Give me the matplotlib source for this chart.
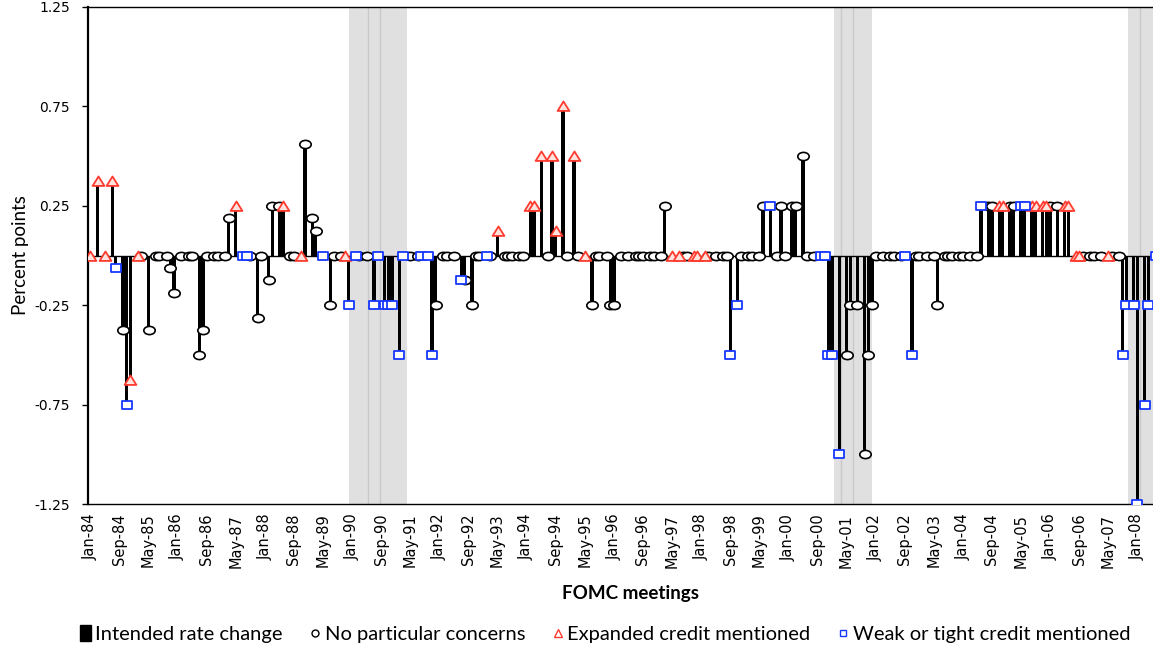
import numpy as np
import matplotlib
matplotlib.use("Agg")
import matplotlib.pyplot as plt
import matplotlib.path as mpath
from matplotlib.patches import Patch
from matplotlib.lines import Line2D

# FOMC meetings (one per month slot), intended rate change (pp) and credit concern
# concern codes: n = no particular concerns, e = expanded credit, w = weak/tight credit
meetings = [
    "1984-01", "1984-03", "1984-05", "1984-07", "1984-08", "1984-10", "1984-11", "1984-12",
    "1985-02", "1985-03", "1985-05", "1985-07", "1985-08", "1985-10", "1985-11", "1985-12",
    "1986-02", "1986-04", "1986-05", "1986-07", "1986-08", "1986-09", "1986-11", "1986-12",
    "1987-02", "1987-03", "1987-05", "1987-07", "1987-08", "1987-09", "1987-11", "1987-12",
    "1988-02", "1988-03", "1988-05", "1988-06", "1988-08", "1988-09", "1988-11", "1988-12",
    "1989-02", "1989-03", "1989-05", "1989-07", "1989-08", "1989-10", "1989-11", "1989-12",
    "1990-02", "1990-03", "1990-05", "1990-07", "1990-08", "1990-10", "1990-11", "1990-12",
    "1991-02", "1991-03", "1991-05", "1991-07", "1991-08", "1991-10", "1991-11", "1991-12",
    "1992-02", "1992-03", "1992-05", "1992-07", "1992-08", "1992-10", "1992-11", "1992-12",
    "1993-02", "1993-03", "1993-05", "1993-07", "1993-08", "1993-09", "1993-11", "1993-12",
    "1994-02", "1994-03", "1994-05", "1994-07", "1994-08", "1994-09", "1994-11", "1994-12",
    "1995-02", "1995-03", "1995-05", "1995-07", "1995-08", "1995-09", "1995-11", "1995-12",
    "1996-01", "1996-03", "1996-05", "1996-07", "1996-08", "1996-09", "1996-11", "1996-12",
    "1997-02", "1997-03", "1997-05", "1997-07", "1997-08", "1997-09", "1997-11", "1997-12",
    "1998-02", "1998-03", "1998-05", "1998-07", "1998-08", "1998-09", "1998-11", "1998-12",
    "1999-02", "1999-03", "1999-05", "1999-06", "1999-08", "1999-10", "1999-11", "1999-12",
    "2000-02", "2000-03", "2000-05", "2000-06", "2000-08", "2000-10", "2000-11", "2000-12",
    "2001-01", "2001-03", "2001-05", "2001-06", "2001-08", "2001-10", "2001-11", "2001-12",
    "2002-01", "2002-03", "2002-05", "2002-06", "2002-08", "2002-09", "2002-11", "2002-12",
    "2003-01", "2003-03", "2003-05", "2003-06", "2003-08", "2003-09", "2003-10", "2003-12",
    "2004-01", "2004-03", "2004-05", "2004-06", "2004-08", "2004-09", "2004-11", "2004-12",
    "2005-02", "2005-03", "2005-05", "2005-06", "2005-08", "2005-09", "2005-11", "2005-12",
    "2006-01", "2006-03", "2006-05", "2006-06", "2006-08", "2006-09", "2006-10", "2006-12",
    "2007-01", "2007-03", "2007-05", "2007-06", "2007-08", "2007-09", "2007-10", "2007-12",
    "2008-01", "2008-03", "2008-04", "2008-06",
]

change = [
    0, 0.375, 0, 0.375, -0.0625, -0.375, -0.75, -0.625,
    0, 0, -0.375, 0, 0, 0, -0.0625, -0.1875,
    0, 0, 0, -0.5, -0.375, 0, 0, 0,
    0, 0.1875, 0.25, 0, 0, 0, -0.3125, 0,
    -0.125, 0.25, 0.25, 0.25, 0, 0, 0, 0.5625,
    0.1875, 0.125, 0, -0.25, 0, 0, 0, -0.25,
    0, 0, 0, -0.25, 0, -0.25, -0.25, -0.25,
    -0.5, 0, 0, 0, 0, 0, -0.5, -0.25,
    0, 0, 0, -0.125, -0.125, -0.25, 0, 0,
    0, 0, 0.125, 0, 0, 0, 0, 0,
    0.25, 0.25, 0.5, 0, 0.5, 0.125, 0.75, 0,
    0.5, 0, 0, -0.25, 0, 0, 0, -0.25,
    -0.25, 0, 0, 0, 0, 0, 0, 0,
    0, 0.25, 0, 0, 0, 0, 0, 0,
    0, 0, 0, 0, 0, -0.5, -0.25, 0,
    0, 0, 0, 0.25, 0.25, 0, 0.25, 0,
    0.25, 0.25, 0.5, 0, 0, 0, 0, -0.5,
    -0.5, -1.0, -0.5, -0.25, -0.25, -1.0, -0.5, -0.25,
    0, 0, 0, 0, 0, 0, -0.5, 0,
    0, 0, 0, -0.25, 0, 0, 0, 0,
    0, 0, 0, 0.25, 0.25, 0.25, 0.25, 0.25,
    0.25, 0.25, 0.25, 0.25, 0.25, 0.25, 0.25, 0.25,
    0.25, 0.25, 0.25, 0.25, 0, 0, 0, 0,
    0, 0, 0, 0, 0, -0.5, -0.25, -0.25,
    -1.25, -0.75, -0.25, 0,
]

concern = [
    "e", "e", "e", "e", "w", "n", "w", "e",
    "e", "n", "n", "n", "n", "n", "n", "n",
    "n", "n", "n", "n", "n", "n", "n", "n",
    "n", "n", "e", "w", "w", "n", "n", "n",
    "n", "n", "n", "e", "n", "n", "e", "n",
    "n", "n", "w", "n", "n", "n", "e", "w",
    "w", "n", "n", "w", "w", "w", "w", "w",
    "w", "w", "n", "n", "w", "w", "w", "n",
    "n", "n", "n", "w", "n", "n", "n", "n",
    "w", "n", "e", "n", "n", "n", "n", "n",
    "e", "e", "e", "n", "e", "e", "e", "n",
    "e", "n", "e", "n", "n", "n", "n", "n",
    "n", "n", "n", "n", "n", "n", "n", "n",
    "n", "n", "e", "e", "n", "n", "e", "e",
    "e", "n", "n", "n", "n", "w", "w", "n",
    "n", "n", "n", "n", "w", "n", "n", "n",
    "n", "n", "n", "n", "n", "w", "w", "w",
    "w", "w", "n", "n", "n", "n", "n", "n",
    "n", "n", "n", "n", "n", "w", "w", "n",
    "n", "n", "n", "n", "n", "n", "n", "n",
    "n", "n", "n", "w", "n", "n", "e", "e",
    "n", "n", "w", "w", "e", "e", "e", "e",
    "n", "n", "e", "e", "e", "e", "n", "n",
    "n", "n", "e", "n", "n", "w", "w", "w",
    "w", "w", "w", "w",
]

# month slots of the recession shading and the faint dividers inside it
shade_start = [71.2, 204.6, 285.5]
shade_end = [87.0, 215.0, 300.0]
shade_lines = [76.4, 79.7, 206.5, 209.7, 288.7]

tick_labels = [
    "Jan-84", "Sep-84", "May-85", "Jan-86", "Sep-86", "May-87", "Jan-88", "Sep-88",
    "May-89", "Jan-90", "Sep-90", "May-91", "Jan-92", "Sep-92", "May-93", "Jan-94",
    "Sep-94", "May-95", "Jan-96", "Sep-96", "May-97", "Jan-98", "Sep-98", "May-99",
    "Jan-00", "Sep-00", "May-01", "Jan-02", "Sep-02", "May-03", "Jan-04", "Sep-04",
    "May-05", "Jan-06", "Sep-06", "May-07", "Jan-08",
]

# month index counted from Jan 1984
month = np.array([(int(s[:4]) - 1984) * 12 + int(s[5:]) - 1 for s in meetings])
change = np.array(change)
concern = np.array(concern)

# slightly flattened marker shapes
uc = mpath.Path.unit_circle()
ellipse = mpath.Path(uc.vertices * [1.0, 0.72], uc.codes)
rect = mpath.Path([(-1, -0.8), (1, -0.8), (1, 0.8), (-1, 0.8), (-1, -0.8)],
                  [1, 2, 2, 2, 79])
tri = mpath.Path([(-1, -0.75), (1, -0.75), (0, 0.85), (-1, -0.75)], [1, 2, 2, 79])

fig = plt.figure(figsize=(11.53, 6.46), dpi=100)
ax = fig.add_axes([88 / 1153, 142 / 646, 1065 / 1153, 497 / 646])

for a, b in zip(shade_start, shade_end):
    ax.axvspan(a, b, color="#e0e0e0", lw=0, zorder=0)
for x in shade_lines:
    ax.axvline(x, color="#c9c9c9", lw=1, zorder=0.5)

ax.bar(month, change, width=0.9, color="black", zorder=2)
ax.axhline(0, color="black", lw=1, zorder=1.5)

red = "#ff3b2f"
blue = "#1638ff"
m = concern == "n"
ax.plot(month[m], change[m], ls="none", marker=ellipse, ms=8.2, mfc="white",
        mec="black", mew=1.2, zorder=3)
m = concern == "e"
ax.plot(month[m], change[m], ls="none", marker=tri, ms=8.5, mfc="#ffe3dc",
        mec=red, mew=1.3, zorder=4)
m = concern == "w"
ax.plot(month[m], change[m], ls="none", marker=rect, ms=7.8, mfc="white",
        mec=blue, mew=1.3, zorder=5)

ax.set_xlim(-0.66, 292.3)
ax.set_ylim(-1.25, 1.25)
ax.set_xticks(np.arange(0, 289, 8))
ax.set_xticklabels(tick_labels, rotation=90, family=["Liberation Sans Narrow", "DejaVu Sans"],
                   fontsize=10.5)
ax.tick_params(axis="x", length=0, pad=7)
ax.set_yticks([-1.25, -0.75, -0.25, 0.25, 0.75, 1.25])
ax.set_yticklabels(["-1.25", "-0.75", "-0.25", "0.25", "0.75", "1.25"], fontsize=10)
ax.tick_params(axis="y", direction="out", length=4, width=1, pad=9)

ax.spines["right"].set_visible(False)
ax.spines["left"].set_linewidth(1.6)
ax.spines["top"].set_linewidth(1.0)
ax.spines["bottom"].set_linewidth(1.0)

ax.set_ylabel("Percent points", family=["Lato", "DejaVu Sans"], fontsize=13.5, labelpad=4)
fig.text(630 / 1153, 1 - 594 / 646, "FOMC meetings", ha="center", va="center",
         family=["Lato", "DejaVu Sans"], fontweight="bold", fontsize=13.5)

handles = [
    Patch(facecolor="black", edgecolor="black"),
    Line2D([], [], ls="none", marker="o", ms=5, mfc="white", mec="black", mew=1),
    Line2D([], [], ls="none", marker="^", ms=6, mfc="white", mec=red, mew=1),
    Line2D([], [], ls="none", marker="s", ms=5, mfc="white", mec=blue, mew=1),
]
labels = ["Intended rate change", "No particular concerns", "Expanded credit mentioned",
          "Weak or tight credit mentioned"]
fig.legend(handles, labels, loc="center", bbox_to_anchor=(605 / 1153, 1 - 634 / 646),
           ncol=4, frameon=False, handlelength=0.55, handleheight=0.8, handletextpad=0.2,
           columnspacing=1.35, prop={"family": ["Lato", "DejaVu Sans"], "size": 14.5})

fig.savefig("out.png", dpi=100)
